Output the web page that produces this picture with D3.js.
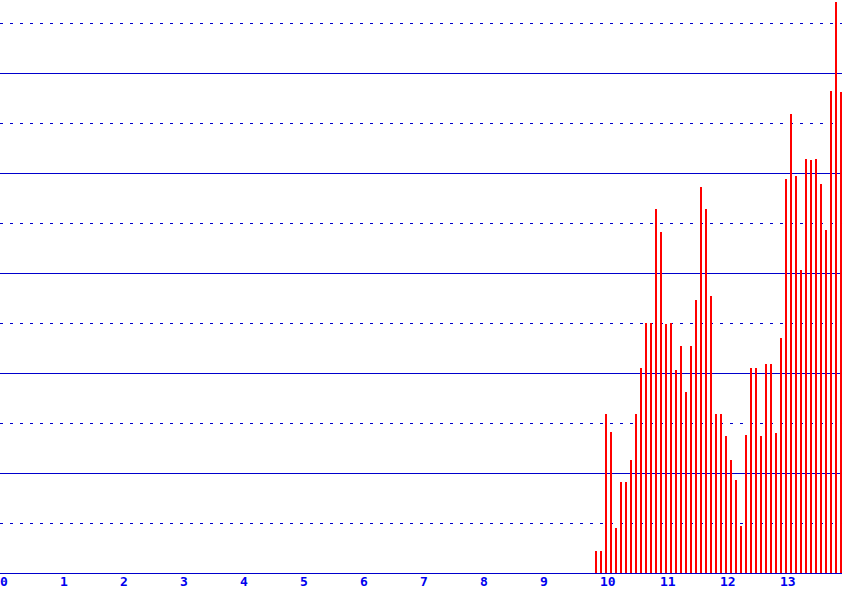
<!DOCTYPE html>
<html>
<head>
<meta charset="utf-8">
<script src="https://cdn.jsdelivr.net/npm/d3@7"></script>
<style>
  html, body { margin: 0; padding: 0; background: #fff; }
  svg { display: block; }
</style>
</head>
<body>
<svg id="chart" width="842" height="593"></svg>
<script>
// ---- data ----
const tickLabels = [0, 1, 2, 3, 4, 5, 6, 7, 8, 9, 10, 11, 12, 13];
const gridValues = [1, 2, 3, 4, 5, 6, 7, 8, 9, 10, 11];
const firstPeriod = 9 + 11 / 12;   // first bar (monthly steps)
const stepsPerUnit = 12;
const values = [
  0.44, 0.44, 3.18, 2.82, 0.90, 1.82, 1.82, 2.26, 3.18, 4.10,
  5.00, 5.00, 7.28, 6.82, 4.98, 5.00, 4.06, 4.54, 3.62, 4.54,
  5.46, 7.72, 7.28, 5.54, 3.18, 3.18, 2.74, 2.26, 1.86, 0.94,
  2.76, 4.10, 4.10, 2.74, 4.18, 4.18, 2.80, 4.70, 7.88, 9.18,
  7.94, 6.06, 8.28, 8.26, 8.28, 7.78, 6.86, 9.64, 11.42, 9.62
];

// ---- layout ----
const W = 842, H = 593;
const plotBottom = 573;
const svg = d3.select("#chart");

const x = d3.scaleLinear().domain([0, W / 60]).range([0, W]);
const y = d3.scaleLinear().domain([0, plotBottom / 50]).range([plotBottom, 0]);

const lineColor = "#0000cc";

// gridlines
svg.append("g").selectAll("line")
  .data(gridValues)
  .join("line")
  .attr("x1", 0).attr("x2", W)
  .attr("y1", d => Math.round(y(d)) + 0.5)
  .attr("y2", d => Math.round(y(d)) + 0.5)
  .attr("stroke", lineColor)
  .attr("stroke-width", 1)
  .attr("stroke-dasharray", d => d % 2 === 0 ? null : "3,7")
  .attr("shape-rendering", "crispEdges");

// bars
const data = values.map((v, i) => ({ t: firstPeriod + i / stepsPerUnit, v }));
svg.append("g").selectAll("rect")
  .data(data)
  .join("rect")
  .attr("x", d => Math.round(x(d.t)))
  .attr("width", 2)
  .attr("y", d => Math.round(y(d.v)))
  .attr("height", d => plotBottom - Math.round(y(d.v)))
  .attr("fill", "#ff0000")
  .attr("shape-rendering", "crispEdges");

// bottom axis line
svg.append("line")
  .attr("x1", 0).attr("x2", W)
  .attr("y1", plotBottom + 0.5).attr("y2", plotBottom + 0.5)
  .attr("stroke", lineColor)
  .attr("stroke-width", 1)
  .attr("shape-rendering", "crispEdges");

// tick labels
svg.append("g").selectAll("text")
  .data(tickLabels)
  .join("text")
  .attr("x", d => x(d))
  .attr("y", 586)
  .attr("text-anchor", "start")
  .attr("fill", "#0000ee")
  .attr("font-family", "'DejaVu Sans Mono', monospace")
  .attr("font-weight", "bold")
  .attr("font-size", 13)
  .text(d => d);
</script>
</body>
</html>
